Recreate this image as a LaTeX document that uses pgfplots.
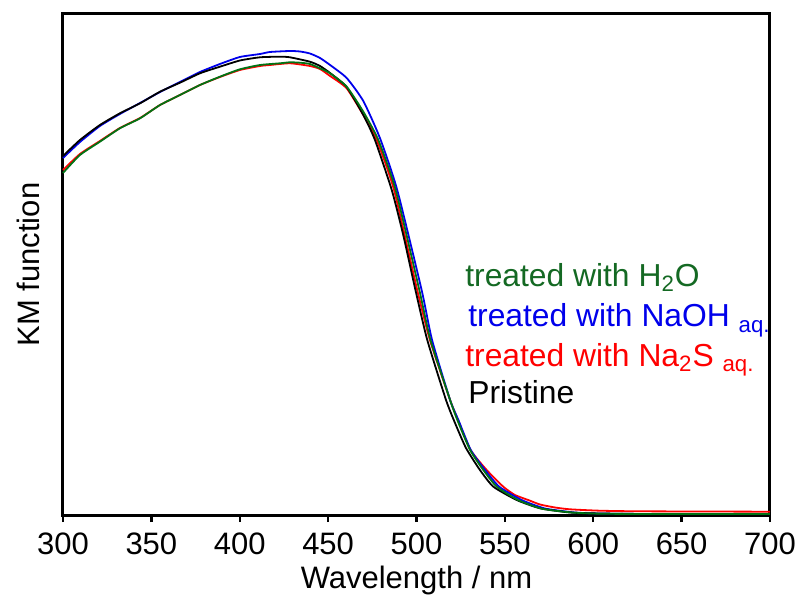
\documentclass[border=0pt]{standalone}
\usepackage{fontspec}
\setmainfont{Liberation Sans}
\usepackage{pgfplots}
\pgfplotsset{compat=1.18}
\definecolor{cblue}{RGB}{0,0,235}
\definecolor{cred}{RGB}{255,0,0}
\definecolor{cgreen}{RGB}{0,115,20}
\definecolor{tgreen}{RGB}{20,105,35}
\begin{document}
\fontsize{15.5bp}{18bp}\selectfont
\begin{tikzpicture}
\begin{axis}[
  scale only axis,
  width=353.5bp, height=250.5bp,
  xmin=300, xmax=700, ymin=0, ymax=501,
  xtick={300,350,...,700}, ytick=\empty,
  xtick pos=bottom, tick align=outside,
  major tick length=3.5bp,
  every tick/.style={black, line width=1.2bp},
  axis line style={line width=1.5bp},
  /pgf/number format/assume math mode=true,
  xticklabel style={font=\fontsize{15.5bp}{18bp}\selectfont},
  xlabel={Wavelength / nm}, ylabel={KM function},
  xlabel style={at={(axis description cs:0.5,-0.13)}, anchor=center},
  ylabel style={at={(axis description cs:-0.0495,0.5)}, anchor=center},
  every axis plot/.append style={smooth, tension=0.35, line width=0.9bp},
  clip=false,
]
% Na2S aq. (red)
\addplot[cred] coordinates {
(300.0,345) (309.6,361) (320.9,374) (332.2,387) (343.6,397) (354.9,410)
(366.2,420) (377.5,430) (388.8,438) (400.1,445) (411.5,449) (417.1,450)
(428.4,451.7) (439.7,449) (445.4,446) (451.1,439) (460.5,426.7) (469.9,400)
(477.5,375) (487.3,325) (500.4,225) (507.6,175) (519.0,115) (523.5,95)
(530.6,65) (539.7,45) (549.1,28.3) (555.7,20) (563.2,15) (569.9,10.5)
(578.4,7.5) (586.8,5.7) (603.8,4.3) (626.4,3.7) (700,3.3)};
% NaOH aq. (blue)
\addplot[cblue] coordinates {
(300.0,357) (309.6,373) (320.9,389) (332.2,401) (343.6,412) (354.9,423)
(366.2,433) (377.5,443) (388.8,451) (400.1,458) (411.5,461) (417.1,463)
(428.4,464) (434.1,463.5) (439.7,461.5) (445.4,457) (451.1,450) (460.5,437)
(469.9,414) (479.3,377) (489.1,325) (502.9,225) (508.8,175) (519.0,115)
(523.7,95) (530.7,65) (538.8,45) (546.8,28.3) (559.5,15) (572.7,6.5)
(589.7,2.5) (603.8,1.5) (632.1,1) (700,1)};
% Pristine (black)
\addplot[black] coordinates {
(300.0,359) (309.6,375) (320.9,390) (332.2,401.7) (343.6,411.7) (354.9,423.3)
(366.2,432.3) (377.5,441.7) (388.8,448.3) (400.1,454.5) (411.5,457.7) (422.8,458.3)
(428.4,457.7) (439.7,453.3) (445.4,449) (451.1,442) (460.5,428) (469.9,400)
(476.5,375) (486.0,325) (492.5,280) (499.4,225) (506.1,175) (516.7,115)
(521.8,92) (528.0,67) (535.9,45) (543.5,28.3) (556.7,15) (569.9,6.7)
(586.8,2.5) (603.8,1.5) (632.1,1) (700,1)};
% H2O (green)
\addplot[cgreen] coordinates {
(300.0,342) (309.6,360) (320.9,373.3) (332.2,386.7) (343.6,396.7) (354.9,410)
(366.2,420) (377.5,430) (388.8,438.3) (400.1,445.7) (411.5,450) (422.8,451.7)
(428.4,452.7) (434.1,452.3) (439.7,451) (445.4,446.7) (451.1,441.7) (460.5,428.3)
(469.9,403.3) (478.4,375) (488.2,325) (501.6,225) (507.9,175) (519.0,115)
(523.1,95) (530.3,65) (537.8,45) (545.4,28.3) (557.4,15) (571.0,6.3)
(588.0,2.5) (603.8,1.3) (632.1,1) (700,1)};
\node[anchor=base west, text=tgreen, inner sep=0pt, font=\fontsize{15.9bp}{18bp}\selectfont] at (axis cs:527.4,228.3) {treated with H\textsubscript{2}O};
\node[anchor=base west, text=cblue, inner sep=0pt, font=\fontsize{15.9bp}{18bp}\selectfont] at (axis cs:529.1,188) {treated with NaOH \textsubscript{aq.}};
\node[anchor=base west, text=cred, inner sep=0pt, font=\fontsize{15.9bp}{18bp}\selectfont] at (axis cs:527.4,148.3) {treated with Na\textsubscript{2}S \textsubscript{aq.}};
\node[anchor=base west, text=black, inner sep=0pt, font=\fontsize{15.9bp}{18bp}\selectfont] at (axis cs:529.1,111) {Pristine};
\end{axis}
\pgfresetboundingbox
\path ([xshift=-31.5bp,yshift=-47.5bp]current axis.south west) rectangle ([xshift=16bp,yshift=7bp]current axis.north east);
\end{tikzpicture}
\end{document}
